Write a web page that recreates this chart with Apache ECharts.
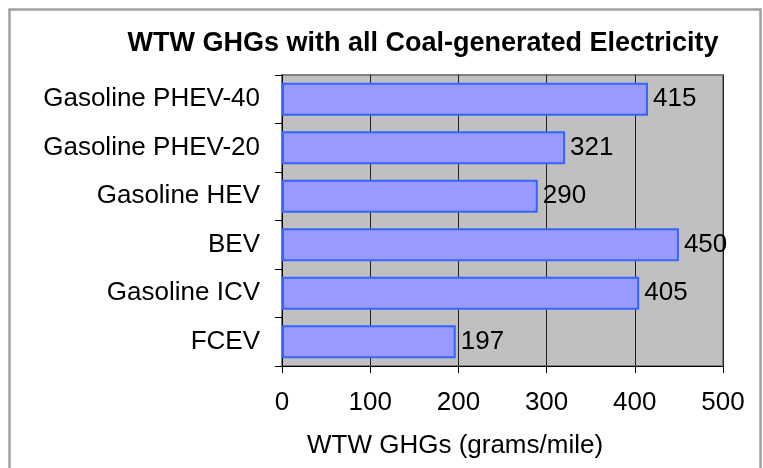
<!DOCTYPE html>
<html style="height: 100%">
<head>
    <meta charset="utf-8">
</head>
<body style="height: 100%; margin: 0; background: #fff">
    <div id="container" style="width: 763px; height: 468px"></div>
    <script type="text/javascript" src="https://cdn.jsdelivr.net/npm/echarts@6/dist/echarts.min.js"></script>
    <script type="text/javascript">
        // data (bottom to top)
        var vehicles = ['FCEV', 'Gasoline ICV', 'BEV', 'Gasoline HEV', 'Gasoline PHEV-20', 'Gasoline PHEV-40'];
        var ghgValues = [197, 405, 450, 290, 321, 415];
        var xTicks = [0, 100, 200, 300, 400, 500];

        var font = "'Liberation Sans', Arial, Helvetica, sans-serif";

        var myChart = echarts.init(document.getElementById('container'));
        var option = {
            animation: false,
            backgroundColor: '#ffffff',
            textStyle: { fontFamily: font },
            title: {
                text: 'WTW GHGs with all Coal-generated Electricity',
                left: 418,
                top: 25,
                textAlign: 'center',
                textStyle: { fontFamily: font, fontSize: 27, fontWeight: 'bold', color: '#000' }
            },
            graphic: [{
                type: 'rect',
                shape: { x: 9.5, y: 9.5, width: 751, height: 520 },
                style: { fill: 'none', stroke: '#a0a0a0', lineWidth: 2.5 },
                silent: true
            }, {
                type: 'text',
                left: 307,
                top: 433,
                style: { text: 'WTW GHGs (grams/mile)', font: '26px ' + font, fill: '#000' }
            }],
            grid: {
                left: 282,
                right: 40,
                top: 75,
                bottom: 102,
                show: true,
                backgroundColor: '#c0c0c0',
                borderColor: '#808080',
                borderWidth: 2
            },
            xAxis: {
                type: 'value',
                min: xTicks[0],
                max: xTicks[xTicks.length - 1],
                interval: 100,
                axisLine: { show: true, lineStyle: { color: '#000', width: 1 } },
                axisTick: { show: true, length: 7, lineStyle: { color: '#000' } },
                axisLabel: { margin: 24, fontSize: 26, color: '#000', fontFamily: font },
                splitLine: { show: true, lineStyle: { color: '#222', width: 1 } }
            },
            yAxis: {
                type: 'category',
                data: vehicles,
                axisLine: { show: true, lineStyle: { color: '#000', width: 1 } },
                axisTick: { show: true, length: 7, lineStyle: { color: '#000' } },
                axisLabel: { margin: 22, fontSize: 26, color: '#000', fontFamily: font },
                splitLine: { show: false }
            },
            series: [{
                type: 'bar',
                data: ghgValues,
                barCategoryGap: '32%',
                itemStyle: { color: '#9999ff', borderColor: '#3366ff', borderWidth: 2 },
                label: {
                    show: true,
                    position: 'right',
                    distance: 5,
                    fontSize: 26,
                    color: '#000',
                    fontFamily: font
                }
            }]
        };
        myChart.setOption(option);
    </script>
</body>
</html>
